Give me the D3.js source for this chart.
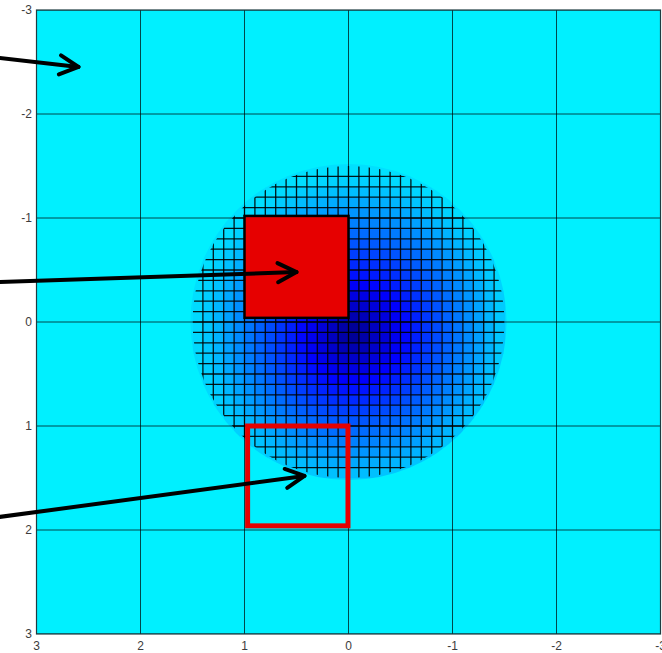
<!DOCTYPE html>
<html>
<head>
<meta charset="utf-8">
<script src="https://cdn.jsdelivr.net/npm/d3@7"></script>
<style>
  html, body { margin: 0; padding: 0; background: #ffffff; overflow: hidden; }
  svg { display: block; }
  text { font-family: "Liberation Sans", Arial, sans-serif; font-size: 12px; fill: #3c3c3c; }
</style>
</head>
<body>
<svg id="chart" width="662" height="653"></svg>
<script>
// Axis extents (both axes run reversed) and tick labels
const xDomain = [3, -3];
const yDomain = [-3, 3];
const xTicks = [3, 2, 1, 0, -1, -2, -3];
const yTicks = [-3, -2, -1, 0, 1, 2, 3];

// Sampled disc: mesh spacing, radius and the radial value profile of the field
const meshStep = 0.1;
const meshRadius = 1.5;
const fieldCenter = [-0.05, 0.1];
const profileDist  = [0.0,  0.3,   0.65,  1.05, 1.4,  1.55];
const profileValue = [0.01, 0.085, 0.165, 0.25, 0.32, 0.345];
const backgroundValue = 0.36;

// Boxes: [xFrom, xTo, yFrom, yTo]
const filledBox  = [1.0, 0.0, -1.02, -0.04];
const outlineBox = [0.97, 0.005, 1.0, 1.96];

// Arrows: tail and tip in data units
const arrowTails = [[3.5, -2.556], [3.5, -0.38], [3.5, 1.894]];
const arrowTips  = [[2.596, -2.452], [0.5, -0.48], [0.423, 1.48]];

const svg = d3.select("#chart");
const x = d3.scaleLinear().domain(xDomain).range([36.5, 660.5]);
const y = d3.scaleLinear().domain(yDomain).range([10, 634]);

// Lower part of the jet colour map
const jet = d3.scaleLinear()
  .domain([0, 0.125, 0.375])
  .range(["#000080", "#0000ff", "#00ffff"])
  .clamp(true);
const profile = d3.scaleLinear().domain(profileDist).range(profileValue).clamp(true);

const defs = svg.append("defs");
defs.append("clipPath").attr("id", "plotClip")
  .append("rect").attr("x", x(3)).attr("y", y(-3))
  .attr("width", x(-3) - x(3)).attr("height", y(3) - y(-3));
defs.append("clipPath").attr("id", "fillClip")
  .append("circle").attr("cx", x(0)).attr("cy", y(0))
  .attr("r", Math.abs(x(1.52) - x(0)));
defs.append("clipPath").attr("id", "meshClip")
  .append("circle").attr("cx", x(0)).attr("cy", y(0))
  .attr("r", Math.abs(x(meshRadius) - x(0)));

const plot = svg.append("g").attr("clip-path", "url(#plotClip)");

// Background
plot.append("rect")
  .attr("x", x(3)).attr("y", y(-3))
  .attr("width", x(-3) - x(3)).attr("height", y(3) - y(-3))
  .attr("fill", jet(backgroundValue));

// Coloured cells of the disc
const edges = d3.range(-16, 16).map(k => k * meshStep);
const cells = [];
edges.forEach(cx => edges.forEach(cy => {
  const mx = cx + meshStep / 2, my = cy + meshStep / 2;
  const d = Math.hypot(mx - fieldCenter[0], my - fieldCenter[1]);
  cells.push({ x0: cx, y0: cy, v: profile(d) });
}));
plot.append("g").attr("clip-path", "url(#fillClip)")
  .selectAll("rect").data(cells).join("rect")
  .attr("x", d => x(d.x0 + meshStep))
  .attr("y", d => y(d.y0))
  .attr("width", d => x(d.x0) - x(d.x0 + meshStep) + 0.3)
  .attr("height", d => y(d.y0 + meshStep) - y(d.y0) + 0.3)
  .attr("fill", d => jet(d.v))
  .attr("shape-rendering", "crispEdges");

// Integer grid
const grid = plot.append("g").attr("stroke", "#000").attr("stroke-opacity", 0.7).attr("stroke-width", 1);
grid.selectAll("line.gx").data(xTicks).join("line").attr("class", "gx")
  .attr("x1", d => x(d)).attr("x2", d => x(d))
  .attr("y1", y(-3)).attr("y2", y(3));
grid.selectAll("line.gy").data(yTicks).join("line").attr("class", "gy")
  .attr("y1", d => y(d)).attr("y2", d => y(d))
  .attr("x1", x(3)).attr("x2", x(-3));

// Fine mesh over the disc
const meshLines = d3.range(-14, 15).map(k => k * meshStep);
const mesh = plot.append("g").attr("clip-path", "url(#meshClip)")
  .attr("stroke", "#000").attr("stroke-width", 1.3).attr("stroke-opacity", 0.9);
mesh.selectAll("line.mx").data(meshLines).join("line").attr("class", "mx")
  .attr("x1", d => x(d)).attr("x2", d => x(d))
  .attr("y1", y(-meshRadius)).attr("y2", y(meshRadius));
mesh.selectAll("line.my").data(meshLines).join("line").attr("class", "my")
  .attr("y1", d => y(d)).attr("y2", d => y(d))
  .attr("x1", x(meshRadius)).attr("x2", x(-meshRadius));

// Filled and outlined boxes
plot.append("rect")
  .attr("x", x(filledBox[0])).attr("y", y(filledBox[2]))
  .attr("width", x(filledBox[1]) - x(filledBox[0]))
  .attr("height", y(filledBox[3]) - y(filledBox[2]))
  .attr("fill", "#e60000").attr("stroke", "#000").attr("stroke-width", 2.5);
plot.append("rect")
  .attr("x", x(outlineBox[0])).attr("y", y(outlineBox[2]))
  .attr("width", x(outlineBox[1]) - x(outlineBox[0]))
  .attr("height", y(outlineBox[3]) - y(outlineBox[2]))
  .attr("fill", "none").attr("stroke", "#e60000").attr("stroke-width", 5);

// Frame
svg.append("rect")
  .attr("x", x(3)).attr("y", y(-3))
  .attr("width", x(-3) - x(3)).attr("height", y(3) - y(-3))
  .attr("fill", "none").attr("stroke", "#1e3c42").attr("stroke-width", 1.2);

// Arrows
const arrows = svg.append("g").attr("stroke", "#000").attr("stroke-width", 4)
  .attr("stroke-linecap", "round").attr("stroke-linejoin", "round").attr("fill", "none");
arrowTips.forEach((tip, i) => {
  const tail = arrowTails[i];
  const tx = x(tip[0]), ty = y(tip[1]);
  const sx = x(tail[0]), sy = y(tail[1]);
  const back = Math.atan2(sy - ty, sx - tx);
  const len = 21, spread = 27 * Math.PI / 180;
  arrows.append("line").attr("x1", sx).attr("y1", sy).attr("x2", tx).attr("y2", ty);
  arrows.append("polyline").attr("points", [
    [tx + len * Math.cos(back + spread), ty + len * Math.sin(back + spread)],
    [tx, ty],
    [tx + len * Math.cos(back - spread), ty + len * Math.sin(back - spread)]
  ].map(p => p.join(",")).join(" "));
});

// Tick labels
svg.append("g").selectAll("text").data(yTicks).join("text")
  .attr("x", 32).attr("y", d => y(d)).attr("dy", "0.35em")
  .attr("text-anchor", "end").text(d => d);
svg.append("g").selectAll("text").data(xTicks).join("text")
  .attr("x", d => x(d)).attr("y", 650)
  .attr("text-anchor", "middle").text(d => d);
</script>
</body>
</html>
